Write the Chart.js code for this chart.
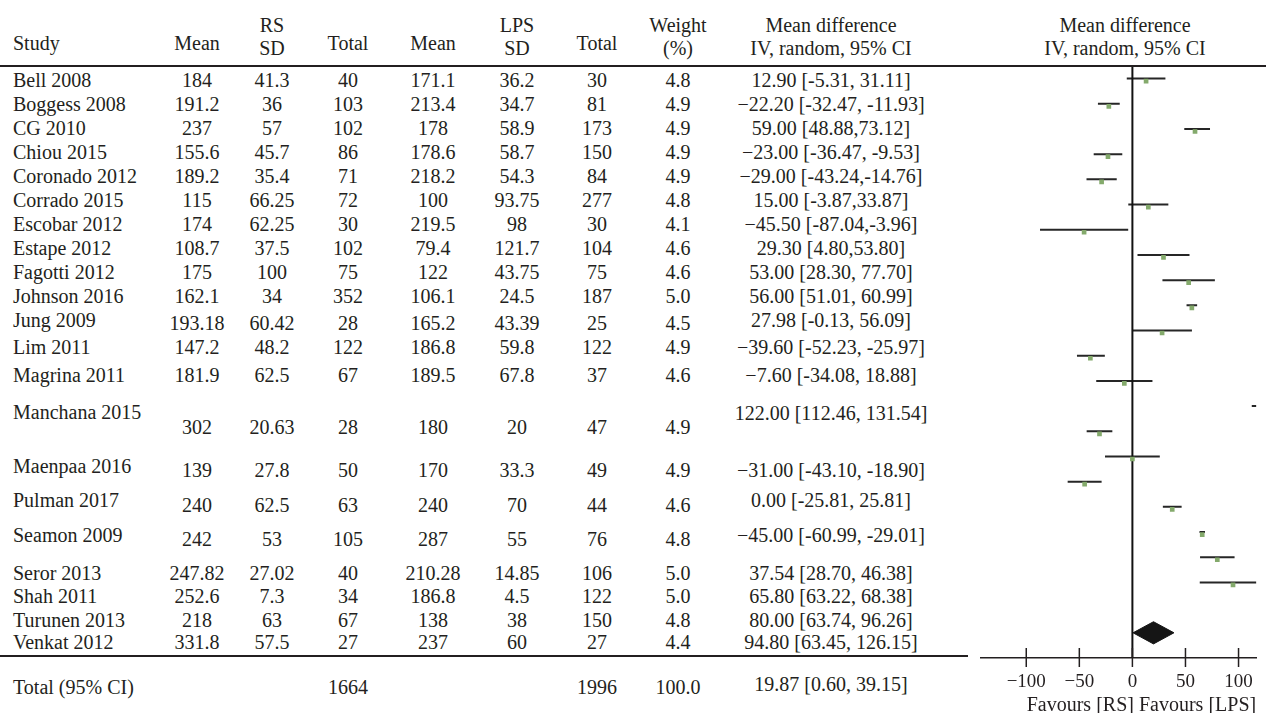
<!DOCTYPE html>
<html>
<head>
<meta charset="utf-8">
<script src="https://cdn.jsdelivr.net/npm/chart.js@4.4.1/dist/chart.umd.min.js"></script>
<style>
  html, body { margin: 0; padding: 0; background: #fff; }
  #page { position: relative; width: 1266px; height: 713px; overflow: hidden; background: #fff;
          font-family: "Liberation Serif", "DejaVu Serif", serif; font-size: 20px; color: #231f20; }
  .c { position: absolute; white-space: nowrap; line-height: 1; transform: translate(-50%, -50%); }
  .l { position: absolute; white-space: nowrap; line-height: 1; transform: translate(0, -50%); }
  .rule { position: absolute; background: #231f20; }
  #plot { position: absolute; left: 977px; top: 60px; width: 289px; height: 653px; }
</style>
</head>
<body>
<div id="page">
  <div id="plot"><canvas id="fp" width="289" height="653"></canvas></div>
</div>
<script>
// Study-level data: robotic surgery (RS) vs laparoscopic surgery (LPS)
const studies = ["Bell 2008", "Boggess 2008", "CG 2010", "Chiou 2015", "Coronado 2012", "Corrado 2015",
  "Escobar 2012", "Estape 2012", "Fagotti 2012", "Johnson 2016", "Jung 2009", "Lim 2011", "Magrina 2011",
  "Manchana 2015", "Maenpaa 2016", "Pulman 2017", "Seamon 2009", "Seror 2013", "Shah 2011",
  "Turunen 2013", "Venkat 2012"];
const rsMean = [184, 191.2, 237, 155.6, 189.2, 115, 174, 108.7, 175, 162.1, 193.18, 147.2, 181.9, 302, 139, 240, 242, 247.82, 252.6, 218, 331.8];
const rsSD = [41.3, 36, 57, 45.7, 35.4, 66.25, 62.25, 37.5, 100, 34, 60.42, 48.2, 62.5, 20.63, 27.8, 62.5, 53, 27.02, 7.3, 63, 57.5];
const rsTotal = [40, 103, 102, 86, 71, 72, 30, 102, 75, 352, 28, 122, 67, 28, 50, 63, 105, 40, 34, 67, 27];
const lpsMean = [171.1, 213.4, 178, 178.6, 218.2, 100, 219.5, 79.4, 122, 106.1, 165.2, 186.8, 189.5, 180, 170, 240, 287, 210.28, 186.8, 138, 237];
const lpsSD = [36.2, 34.7, 58.9, 58.7, 54.3, 93.75, 98, 121.7, 43.75, 24.5, 43.39, 59.8, 67.8, 20, 33.3, 70, 55, 14.85, 4.5, 38, 60];
const lpsTotal = [30, 81, 173, 150, 84, 277, 30, 104, 75, 187, 25, 122, 37, 47, 49, 44, 76, 106, 122, 150, 27];
const weight = [4.8, 4.9, 4.9, 4.9, 4.9, 4.8, 4.1, 4.6, 4.6, 5.0, 4.5, 4.9, 4.6, 4.9, 4.9, 4.6, 4.8, 5.0, 5.0, 4.8, 4.4];
const meanDiff = [12.90, -22.20, 59.00, -23.00, -29.00, 15.00, -45.50, 29.30, 53.00, 56.00, 27.98, -39.60, -7.60, 122.00, -31.00, 0.00, -45.00, 37.54, 65.80, 80.00, 94.80];
const ciLow = [-5.31, -32.47, 48.88, -36.47, -43.24, -3.87, -87.04, 4.80, 28.30, 51.01, -0.13, -52.23, -34.08, 112.46, -43.10, -25.81, -60.99, 28.70, 63.22, 63.74, 63.45];
const ciHigh = [31.11, -11.93, 73.12, -9.53, -14.76, 33.87, -3.96, 53.80, 77.70, 60.99, 56.09, -25.97, 18.88, 131.54, -18.90, 25.81, -29.01, 46.38, 68.38, 96.26, 126.15];

// Pooled random-effects estimate and group totals
const pooledMD = 19.87;
const pooledLow = 0.60;
const pooledHigh = 39.15;
const totalRS = 1664;
const totalLPS = 1996;
const totalWeight = 100.0;

// Axis ticks of the effect-size scale
const xTicks = [-100, -50, 0, 50, 100];

// ---------- table (left part) ----------
const page = document.getElementById('page');
function put(text, x, y, cls) {
  const d = document.createElement('div');
  d.className = cls;
  d.style.left = x + 'px';
  d.style.top = y + 'px';
  d.textContent = text;
  page.appendChild(d);
}
function rule(x, y, w, h) {
  const d = document.createElement('div');
  d.className = 'rule';
  Object.assign(d.style, { left: x + 'px', top: y + 'px', width: w + 'px', height: h + 'px' });
  page.appendChild(d);
}
const minus = '\u2212';
function fmtCI(md, lo, hi, tight) {
  const est = (md < 0 ? minus : '') + Math.abs(md).toFixed(2);
  return est + ' [' + lo.toFixed(2) + (tight ? ',' : ', ') + hi.toFixed(2) + ']';
}
const tightCI = new Set(["CG 2010", "Coronado 2012", "Corrado 2015", "Escobar 2012", "Estape 2012"]);

const col = { name: 13, rsMean: 197, rsSD: 272, rsTotal: 348, lpsMean: 433, lpsSD: 517, lpsTotal: 597, weight: 678, ci: 831, plot: 1125 };

// header block
put('Study', col.name, 43, 'l');
put('Mean', col.rsMean, 43, 'c');
put('RS', col.rsSD, 25, 'c');
put('SD', col.rsSD, 48, 'c');
put('Total', col.rsTotal, 43, 'c');
put('Mean', col.lpsMean, 43, 'c');
put('LPS', col.lpsSD, 25, 'c');
put('SD', col.lpsSD, 48, 'c');
put('Total', col.lpsTotal, 43, 'c');
put('Weight', col.weight, 25, 'c');
put('(%)', col.weight, 48, 'c');
put('Mean difference', col.ci, 25, 'c');
put('IV, random, 95% CI', col.ci, 48, 'c');
put('Mean difference', col.plot, 25, 'c');
put('IV, random, 95% CI', col.plot, 48, 'c');

// vertical placement of the table rows (names and numbers can sit at different heights)
const nameY = [80, 104, 128, 152, 176, 200, 224, 248, 272, 296, 320, 347, 375, 412, 466, 500, 535, 573, 596, 620, 642];
const valY  = [80, 104, 128, 152, 176, 200, 224, 248, 272, 296, 323, 347, 375, 427, 470, 505, 539, 573, 596, 620, 642];
const ciY   = [80, 104, 128, 152, 176, 200, 224, 248, 272, 296, 320, 347, 375, 413, 470, 500, 535, 573, 596, 620, 642];

studies.forEach((s, i) => {
  put(s, col.name, nameY[i], 'l');
  put(String(rsMean[i]), col.rsMean, valY[i], 'c');
  put(String(rsSD[i]), col.rsSD, valY[i], 'c');
  put(String(rsTotal[i]), col.rsTotal, valY[i], 'c');
  put(String(lpsMean[i]), col.lpsMean, valY[i], 'c');
  put(String(lpsSD[i]), col.lpsSD, valY[i], 'c');
  put(String(lpsTotal[i]), col.lpsTotal, valY[i], 'c');
  put(weight[i].toFixed(1), col.weight, valY[i], 'c');
  put(fmtCI(meanDiff[i], ciLow[i], ciHigh[i], tightCI.has(s)), col.ci, ciY[i], 'c');
});

put('Total (95% CI)', col.name, 687, 'l');
put(String(totalRS), col.rsTotal, 687, 'c');
put(String(totalLPS), col.lpsTotal, 687, 'c');
put(totalWeight.toFixed(1), col.weight, 687, 'c');
put(fmtCI(pooledMD, pooledLow, pooledHigh, false), col.ci, 684, 'c');

rule(0, 65, 1266, 2);
rule(0, 655, 968, 2);

// ---------- forest plot (right part) ----------
const pooledRow = studies.length + 1;
const diamondHalf = 0.44;
const squareDrop = 0.1;

const datasets = [];
studies.forEach((s, i) => {
  datasets.push({
    label: s,
    data: [{ x: ciLow[i], y: i }, { x: ciHigh[i], y: i }],
    borderColor: '#262626', borderWidth: 2, pointRadius: 0, fill: false, order: 3
  });
});
datasets.push({
  label: 'estimate',
  data: meanDiff.map((v, i) => ({ x: v, y: i + squareDrop })),
  showLine: false, pointStyle: 'rect', pointRadius: 3.3, pointHoverRadius: 3.3,
  backgroundColor: '#84aa6c', borderColor: '#84aa6c', pointBorderWidth: 0, order: 1
});
datasets.push({
  label: 'no effect',
  data: [{ x: 0, y: -0.5 }, { x: 0, y: 23 }],
  borderColor: '#111', borderWidth: 2, pointRadius: 0, fill: false, order: 2
});
datasets.push({
  label: 'pooled',
  data: [
    { x: pooledLow, y: pooledRow },
    { x: pooledMD, y: pooledRow - diamondHalf },
    { x: pooledHigh, y: pooledRow },
    { x: pooledMD, y: pooledRow + diamondHalf },
    { x: pooledLow, y: pooledRow }
  ],
  borderColor: '#151515', backgroundColor: '#151515', borderWidth: 1, pointRadius: 0,
  fill: 'shape', tension: 0, order: 0
});

const crossTicks = {
  id: 'crossTicks',
  afterDraw(chart) {
    const s = chart.scales.x, ctx = chart.ctx, y = chart.chartArea.bottom;
    ctx.save();
    ctx.strokeStyle = '#231f20';
    ctx.lineWidth = 1.5;
    s.ticks.forEach(t => {
      const px = s.getPixelForValue(t.value);
      ctx.beginPath();
      ctx.moveTo(px, y - 10);
      ctx.lineTo(px, y + 9);
      ctx.stroke();
    });
    ctx.restore();
  }
};

new Chart(document.getElementById('fp'), {
  type: 'line',
  data: { datasets },
  options: {
    responsive: false,
    animation: false,
    devicePixelRatio: 1,
    layout: { padding: { top: 6, left: 0, right: 0, bottom: 0 } },
    plugins: { legend: { display: false }, tooltip: { enabled: false } },
    scales: {
      x: {
        type: 'linear', position: 'bottom', min: -143.3, max: 116.6,
        afterBuildTicks: s => { s.ticks = xTicks.map(v => ({ value: v })); },
        afterFit: s => { s.height = 55; },
        grid: { display: false, drawTicks: false },
        border: { display: true, color: '#231f20', width: 1.5 },
        ticks: {
          autoSkip: false, maxRotation: 0, padding: 13, color: '#231f20',
          font: { family: 'Liberation Serif', size: 19 },
          callback: v => (v < 0 ? minus + Math.abs(v) : String(v))
        },
        title: {
          display: true, text: 'Favours [RS] Favours [LPS]', align: 'end', color: '#231f20',
          font: { family: 'Liberation Serif', size: 20, lineHeight: 1 }, padding: { top: 0, bottom: -3 }
        }
      },
      y: { type: 'linear', reverse: true, min: -0.5, max: 23, display: false }
    }
  },
  plugins: [crossTicks]
});
</script>
</body>
</html>
